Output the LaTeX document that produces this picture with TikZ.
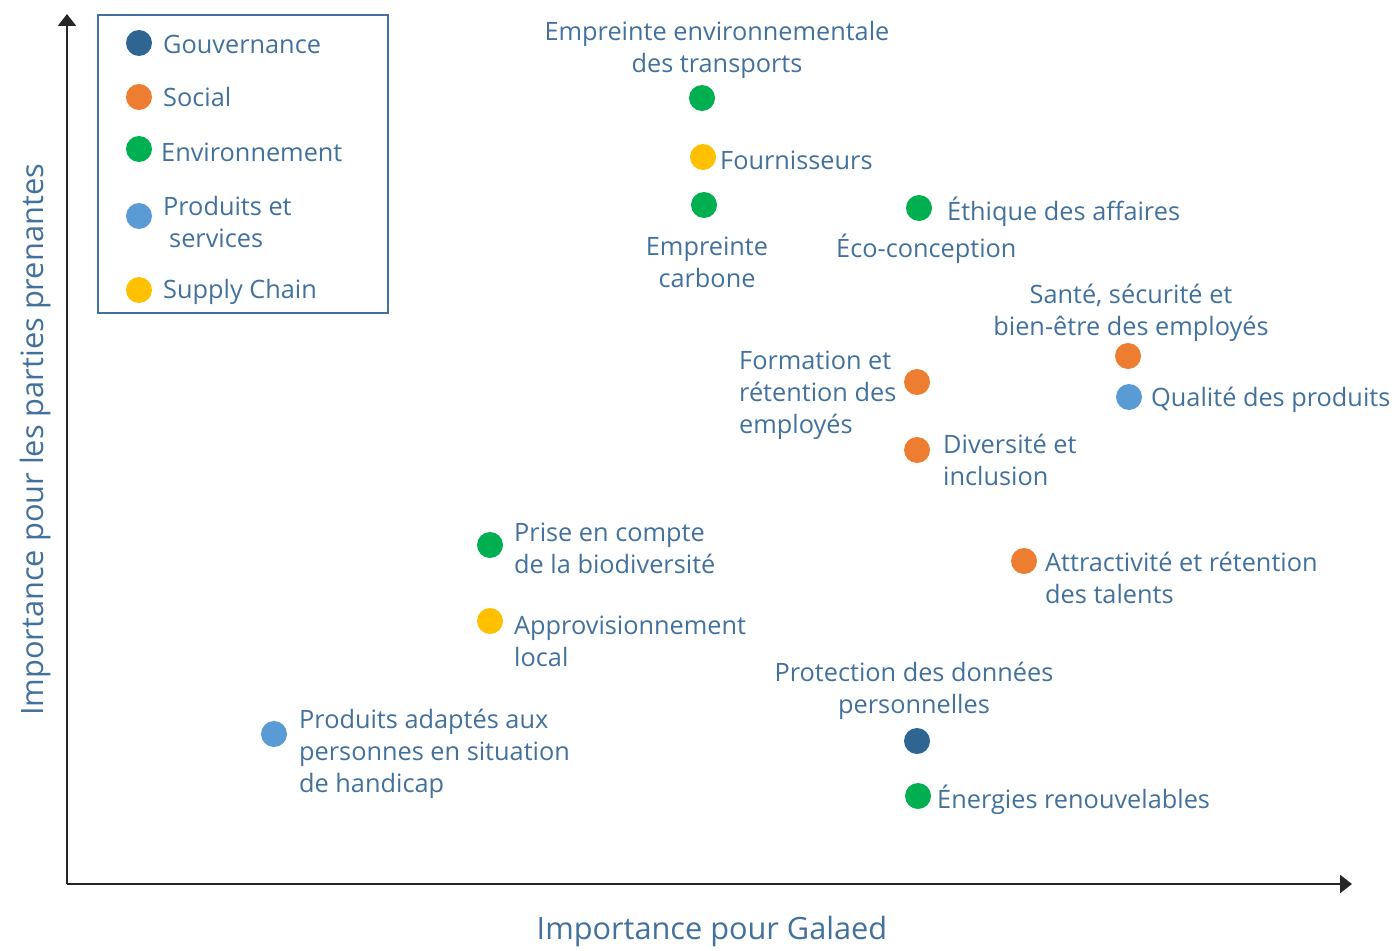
\documentclass[tikz,border=0pt]{standalone}
\usepackage{fontspec}
\setmainfont{Open Sans}
\usetikzlibrary{arrows.meta}
\definecolor{txtblue}{HTML}{41719C}
\definecolor{gouv}{HTML}{2E6591}
\definecolor{social}{HTML}{ED7D31}
\definecolor{envir}{HTML}{00B050}
\definecolor{prod}{HTML}{5B9BD5}
\definecolor{supply}{HTML}{FFC000}
\begin{document}
\begin{tikzpicture}[x=1pt, y=-1pt, >={Triangle[length=12pt, width=18pt]},
                    every node/.style={font=\fontsize{25.3}{32}\selectfont,
                    text=txtblue, inner sep=0pt}]
\tikzstyle{dot}=[circle, minimum size=26pt, inner sep=0pt]
\tikzstyle{lab}=[anchor=west, align=left]
\tikzstyle{clab}=[align=center]
\useasboundingbox (0,0) rectangle (1399,950);
  % axes
  \coordinate (O) at (67,884);
  \coordinate (ytop) at (67,14);
  \coordinate (xend) at (1352,884);
  \draw[->, line width=2.5pt, black!85] (O) -- (ytop);
  \draw[->, line width=2.5pt, black!85] (O) -- (xend);
  \node[font=\fontsize{30.7}{36}\selectfont] (xlab) at (712,932) {Importance pour Galaed};
  \node[font=\fontsize{30.8}{36}\selectfont, rotate=90] (ylab) at (35,440) {Importance pour les parties prenantes};
  % legend
  \node[draw=txtblue, line width=2.5pt, minimum width=290pt, minimum height=298pt] (legend) at (243,164) {};
  \node[dot, fill=gouv] (lgouv) at (139,43) {};
  \node[lab] (tgouv) at (163,44) {Gouvernance};
  \node[dot, fill=social] (lsoc) at (139,97) {};
  \node[lab] (tsoc) at (163,97) {Social};
  \node[dot, fill=envir] (lenv) at (139,149) {};
  \node[lab] (tenv) at (161,152) {Environnement};
  \node[dot, fill=prod] (lprod) at (139,216) {};
  \node[lab] (tprod) at (163,222) {Produits et\\\hspace{6pt}services};
  \node[dot, fill=supply] (lsup) at (139,290) {};
  \node[lab] (tsup) at (163,292) {Supply Chain};
  % points
  \node[dot, fill=envir] (transp) at (702,98) {};
  \node[clab] (ttransp) at (717,50) {Empreinte environnementale\\des transports};
  \node[dot, fill=supply] (fourn) at (703,157) {};
  \node[lab] (tfourn) at (720,160) {Fournisseurs};
  \node[dot, fill=envir] (carb) at (704,205) {};
  \node[clab] (tcarb) at (707,262) {Empreinte\\carbone};
  \node[dot, fill=envir] (ethi) at (919,208) {};
  \node[lab] (tethi) at (947,212) {Éthique des affaires};
  \node[lab] (teco) at (836,249) {Éco-conception};
  \node[dot, fill=social] (sante) at (1128,356) {};
  \node[clab] (tsante) at (1131,313) {Santé, sécurité et\\bien-être des employés};
  \node[dot, fill=prod] (qual) at (1129,397) {};
  \node[lab] (tqual) at (1151,400) {Qualité des produits};
  \node[dot, fill=social] (form) at (917,382) {};
  \node[lab] (tform) at (739,395) {Formation et\\rétention des\\employés};
  \node[dot, fill=social] (div) at (917,450) {};
  \node[lab] (tdiv) at (943,460) {Diversité et\\inclusion};
  \node[dot, fill=envir] (bio) at (490,545) {};
  \node[lab] (tbio) at (514,548) {Prise en compte\\de la biodiversité};
  \node[dot, fill=social] (attr) at (1024,561) {};
  \node[lab] (tattr) at (1045,578) {Attractivité et rétention\\des talents};
  \node[dot, fill=supply] (appro) at (490,621) {};
  \node[lab] (tappro) at (514,641) {Approvisionnement\\local};
  \node[dot, fill=gouv] (donn) at (917,741) {};
  \node[clab] (tdonn) at (914,691) {Protection des données\\personnelles};
  \node[dot, fill=envir] (ener) at (918,796) {};
  \node[lab] (tener) at (937,800) {Énergies renouvelables};
  \node[dot, fill=prod] (hand) at (274,734) {};
  \node[lab] (thand) at (299,754) {Produits adaptés aux\\personnes en situation\\de handicap};
\end{tikzpicture}
\end{document}
